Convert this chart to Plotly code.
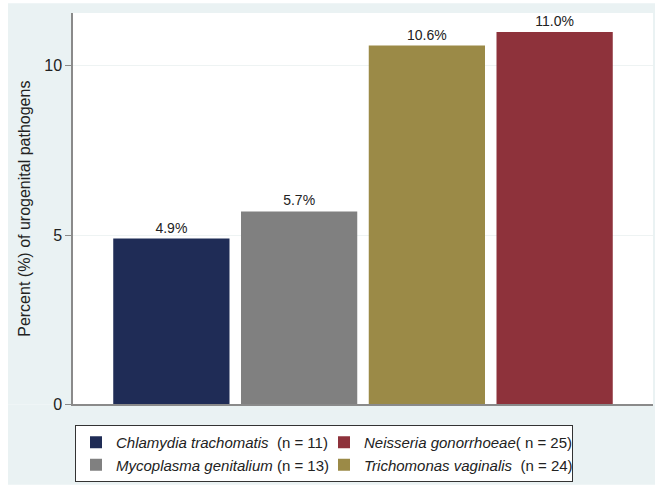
import plotly.graph_objects as go

# Data (bar order left to right)
pathogens = ["Chlamydia trachomatis", "Mycoplasma genitalium", "Trichomonas vaginalis", "Neisseria gonorrhoeae"]
counts = [11, 13, 24, 25]
percents = [4.9, 5.7, 10.6, 11.0]
labels = ["4.9%", "5.7%", "10.6%", "11.0%"]
colors = ["#1f2c56", "#808080", "#9b8a47", "#8e323b"]
legend_names = [
    "<i>Chlamydia trachomatis</i>  (n = 11)",
    "<i>Mycoplasma genitalium</i> (n = 13)",
    "<i>Trichomonas vaginalis</i>  (n = 24)",
    "<i>Neisseria gonorrhoeae</i>( n = 25)",
]
# legend order (row-wise, two columns)
legend_order = [0, 3, 1, 2]
y_ticks = [0, 5, 10]

fig = go.Figure()
for i in legend_order:
    fig.add_trace(go.Bar(
        x=[i], y=[percents[i]], width=0.91,
        name=legend_names[i],
        marker=dict(color=colors[i], line=dict(width=0)),
        text=[labels[i]], textposition="outside",
        textfont=dict(size=14, color="#222222"),
        cliponaxis=False,
    ))

# light outer frame, drawn as four strips around the white plot area
W, H = 580, 400
def px(x):
    return (x - 73) / W
def py(y):
    return (413 - y) / H
bg = "#eaf2f3"
frame = [
    (8, 3, 655, 13),     # top strip
    (8, 413, 655, 495),  # bottom strip
    (8, 13, 73, 413),    # left strip
    (653, 13, 655, 413), # right strip
]
shapes = [
    dict(type="rect", xref="paper", yref="paper", layer="below",
         x0=px(a), x1=px(c), y0=py(d), y1=py(b),
         fillcolor=bg, line=dict(width=0))
    for (a, b, c, d) in frame
]

fig.update_layout(
    width=666, height=500,
    margin=dict(l=73, r=13, t=13, b=87),
    paper_bgcolor="white",
    plot_bgcolor="white",
    barmode="overlay",
    font=dict(family="Liberation Sans, Arial, sans-serif", color="#222222"),
    showlegend=True,
    legend=dict(
        orientation="h", xref="container", yref="container",
        x=75 / 666, y=1 - 425 / 500, xanchor="left", yanchor="top",
        entrywidth=203, entrywidthmode="pixels",
        bgcolor="white", bordercolor="#333333", borderwidth=1,
        font=dict(size=15, color="#222222"),
        traceorder="normal", tracegroupgap=0,
    ),
    xaxis=dict(
        range=[-0.77, 3.77], showticklabels=False, ticks="",
        showgrid=False, zeroline=False,
        showline=True, linecolor="#8a8a8a", linewidth=1.5,
    ),
    yaxis=dict(
        range=[0, 11.56], tickvals=y_ticks, ticktext=[str(v) for v in y_ticks],
        ticks="outside", ticklen=6, tickcolor="#8a8a8a",
        showline=True, linecolor="#8a8a8a", linewidth=1.5,
        showgrid=True, gridcolor="#eef3f3", gridwidth=1,
        zeroline=False,
        tickfont=dict(size=16, color="#222222"),
        title=dict(text="Percent (%) of urogenital pathogens", font=dict(size=16, color="#222222"), standoff=10),
    ),
    shapes=shapes,
)

fig.write_html("out.html", config={"displayModeBar": False},
               post_script="document.body.style.margin='0';")
